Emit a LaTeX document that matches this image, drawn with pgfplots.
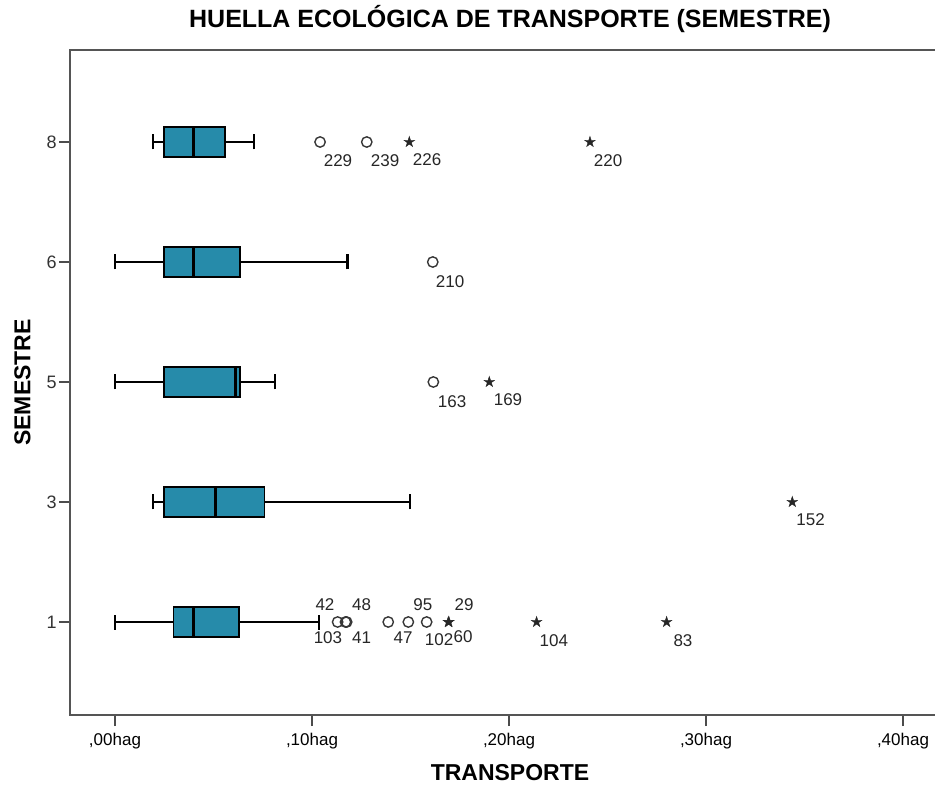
\documentclass[border=0pt]{standalone}
\usepackage{fontspec}
\setmainfont{Liberation Sans}
\usepackage{pgfplots}
\pgfplotsset{compat=1.18}
\usepgfplotslibrary{statistics}

\definecolor{boxfill}{RGB}{38,139,170}
\definecolor{framec}{RGB}{85,85,85}
\definecolor{outl}{RGB}{55,55,55}

\pgfdeclareplotmark{fstar}{%
  \pgfpathmoveto{\pgfpointpolar{90}{\pgfplotmarksize}}%
  \pgfpathlineto{\pgfpointpolar{126}{0.38\pgfplotmarksize}}%
  \pgfpathlineto{\pgfpointpolar{162}{\pgfplotmarksize}}%
  \pgfpathlineto{\pgfpointpolar{198}{0.38\pgfplotmarksize}}%
  \pgfpathlineto{\pgfpointpolar{234}{\pgfplotmarksize}}%
  \pgfpathlineto{\pgfpointpolar{270}{0.38\pgfplotmarksize}}%
  \pgfpathlineto{\pgfpointpolar{306}{\pgfplotmarksize}}%
  \pgfpathlineto{\pgfpointpolar{342}{0.38\pgfplotmarksize}}%
  \pgfpathlineto{\pgfpointpolar{18}{\pgfplotmarksize}}%
  \pgfpathlineto{\pgfpointpolar{54}{0.38\pgfplotmarksize}}%
  \pgfpathclose
  \pgfusepathqfillstroke}

\begin{document}
\begin{tikzpicture}[lbl/.style={font=\fontsize{8.5pt}{10pt}\selectfont, text=black!85, inner sep=0pt}]
\path[use as bounding box] (-35pt,-35.5pt) rectangle (432.5pt,357.5pt);
\begin{axis}[
  scale only axis, width=440pt, height=332.5pt,
  xmin=-0.02284, xmax=0.42386, ymin=0.225, ymax=5.7667,
  clip=false,
  xtick={0,0.1,0.2,0.3,0.4},
  xticklabels={{,00hag},{,10hag},{,20hag},{,30hag},{,40hag}},
  ytick={1,2,3,4,5},
  yticklabels={1,3,5,6,8},
  xtick pos=bottom, ytick pos=left,
  tick align=outside, major tick length=5.5pt,
  tick style={black!70, line width=0.8pt},
  axis line style={framec, line width=1pt},
  xticklabel style={font=\fontsize{8.5pt}{10pt}\selectfont},
  yticklabel style={font=\fontsize{9pt}{10pt}\selectfont, inner sep=1pt, text=black!80},
  /pgf/number format/assume math mode=true,
  title={HUELLA ECOLÓGICA DE TRANSPORTE (SEMESTRE)},
  title style={font=\bfseries\fontsize{12.5pt}{14pt}\selectfont, at={(axis description cs:0.5,1)}, anchor=center, yshift=9.5pt},
  xlabel={TRANSPORTE},
  xlabel style={font=\bfseries\fontsize{11.5pt}{13pt}\selectfont, at={(axis description cs:0.5,0)}, anchor=center, yshift=-29pt},
  ylabel={SEMESTRE},
  ylabel style={font=\bfseries\fontsize{11.5pt}{13pt}\selectfont, at={(axis description cs:-0.0540,0.5)}, anchor=center},
  boxplot/draw direction=x,
  boxplot/box extend=0.25,
  boxplot/whisker extend=0.125,
  boxplot/every box/.style={draw=black, line width=0.75pt, fill=boxfill},
  boxplot/every whisker/.style={draw=black, line width=1.1pt},
  boxplot/every median/.style={draw=black, line width=1.5pt},
]
% Semester 1
\addplot+[black, mark=none, boxplot prepared={lower whisker=0, lower quartile=0.0296, median=0.0401, upper quartile=0.0629, upper whisker=0.1037, draw position=1}] coordinates {};
% Semester 3
\addplot+[black, mark=none, boxplot prepared={lower whisker=0.0194, lower quartile=0.0250, median=0.0509, upper quartile=0.0758, upper whisker=0.1497, draw position=2}] coordinates {};
% Semester 5
\addplot+[black, mark=none, boxplot prepared={lower whisker=0, lower quartile=0.0250, median=0.0613, upper quartile=0.0635, upper whisker=0.0812, draw position=3}] coordinates {};
% Semester 6
\addplot+[black, mark=none, boxplot prepared={lower whisker=0, lower quartile=0.0250, median=0.0397, upper quartile=0.0635, upper whisker=0.1180, draw position=4}] coordinates {};
% Semester 8
\addplot+[black, mark=none, boxplot prepared={lower whisker=0.0194, lower quartile=0.0250, median=0.0397, upper quartile=0.0558, upper whisker=0.0707, draw position=5}] coordinates {};

% outliers (circles)
\addplot[only marks, mark=o, mark size=2.6pt, outl, mark options={line width=0.7pt}] coordinates {
 (0.1130,1) (0.1170,1) (0.1176,1) (0.1387,1) (0.1489,1) (0.1582,1)
 (0.1616,3)
 (0.1613,4)
 (0.1041,5) (0.1278,5)
};
% extreme values (stars)
\addplot[only marks, mark=fstar, mark size=2.8pt, black!85, mark options={line width=0.2pt, fill=black!85}] coordinates {
 (0.1692,1) (0.1695,1) (0.2140,1) (0.2800,1)
 (0.3438,2)
 (0.1900,3)
 (0.1494,5) (0.2411,5)
};

% case labels
\node[lbl] at (axis cs:0.1132,4.842) {229};
\node[lbl] at (axis cs:0.1371,4.842) {239};
\node[lbl] at (axis cs:0.1584,4.850) {226};
\node[lbl] at (axis cs:0.2503,4.842) {220};
\node[lbl] at (axis cs:0.1701,3.836) {210};
\node[lbl] at (axis cs:0.1711,2.836) {163};
\node[lbl] at (axis cs:0.1995,2.850) {169};
\node[lbl] at (axis cs:0.3531,1.850) {152};
\node[lbl] at (axis cs:0.1066,1.142) {42};
\node[lbl] at (axis cs:0.1081,0.867) {103};
\node[lbl] at (axis cs:0.1252,1.142) {48};
\node[lbl] at (axis cs:0.1252,0.867) {41};
\node[lbl] at (axis cs:0.1563,1.142) {95};
\node[lbl] at (axis cs:0.1462,0.867) {47};
\node[lbl] at (axis cs:0.1645,0.852) {102};
\node[lbl] at (axis cs:0.1767,0.880) {60};
\node[lbl] at (axis cs:0.1772,1.142) {29};
\node[lbl] at (axis cs:0.2228,0.842) {104};
\node[lbl] at (axis cs:0.2883,0.842) {83};
\end{axis}
\end{tikzpicture}
\end{document}
